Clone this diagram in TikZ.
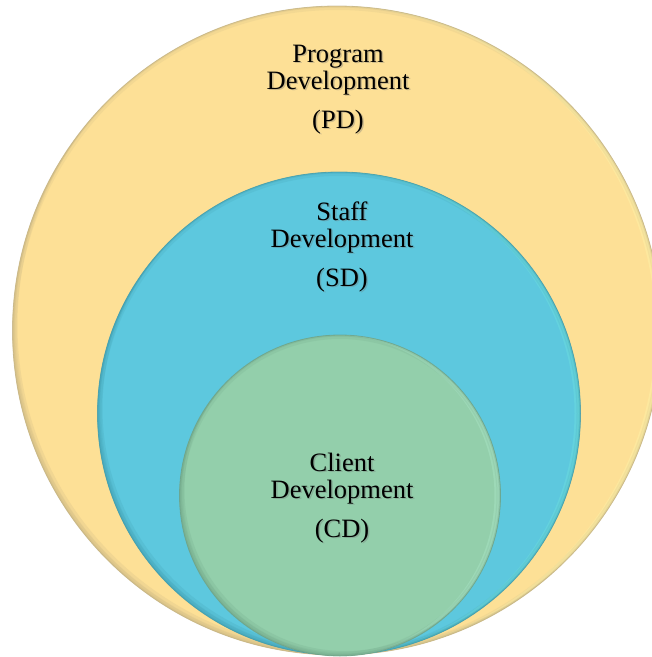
\documentclass[tikz,border=0pt]{standalone}
\usepackage{fontspec}
\setmainfont{Liberation Serif}
\begin{document}
\definecolor{pdfill}{HTML}{FDE096}
\definecolor{pdedge}{HTML}{BFAE80}
\definecolor{pdlight}{HTML}{FFF8AE}
\definecolor{sdfill}{HTML}{5DC8DE}
\definecolor{sdedge}{HTML}{3C97A8}
\definecolor{sdlight}{HTML}{72E6E0}
\definecolor{cdfill}{HTML}{93CFAB}
\definecolor{cdedge}{HTML}{6A9E82}
\definecolor{cdlight}{HTML}{B2EDD0}
\tikzset{
  lbl/.style={anchor=base, inner sep=0pt, font=\fontsize{26.5}{27}\selectfont, text=black},
  lblshadow/.style={anchor=base, inner sep=0pt, font=\fontsize{26.5}{27}\selectfont, text=black!55, opacity=0.35},
}
% a bevelled disc: base fill, soft inner rim, light crescent on the right,
% dark crescent at the lower left, thin outline
\newcommand{\beveldisc}[5]{% centre, radius, fill, edge, light
  \fill[#3] (#1) circle[radius=#2];
  \begin{scope}
    \clip (#1) circle[radius=#2];
    \fill[#5, opacity=0.35, even odd rule] (#1) circle[radius=#2] ([xshift=-6pt]#1) circle[radius=#2];
    \fill[#5, opacity=0.35, even odd rule] (#1) circle[radius=#2] ([xshift=-3pt]#1) circle[radius=#2];
    \fill[#4, opacity=0.18, even odd rule] (#1) circle[radius=#2] ([xshift=5pt,yshift=5pt]#1) circle[radius=#2];
    \fill[#4, opacity=0.18, even odd rule] (#1) circle[radius=#2] ([xshift=2.5pt,yshift=2.5pt]#1) circle[radius=#2];
    \draw[#4, opacity=0.15, line width=8pt] (#1) circle[radius=#2];
    \draw[#4, opacity=0.25, line width=3pt] (#1) circle[radius=#2];
  \end{scope}
  \draw[#4, opacity=0.7, line width=0.8pt] (#1) circle[radius=#2];
}
\begin{tikzpicture}[x=1pt, y=-1pt]
  \useasboundingbox (0,0) rectangle (652,657);
  \clip (0,0) rectangle (652,657);
  \coordinate (pdc) at (337,330.5);
  \coordinate (sdc) at (339,413.5);
  \coordinate (cdc) at (340,495.5);

  \beveldisc{pdc}{324.5pt}{pdfill}{pdedge}{pdlight}
  \beveldisc{sdc}{241.5pt}{sdfill}{sdedge}{sdlight}
  \beveldisc{cdc}{160.5pt}{cdfill}{cdedge}{cdlight}

  % labels with a soft drop shadow
  \foreach \name/\x/\y/\t in {pdA/338/62/Program, pdB/338/89/Development, pdC/338/128/(PD),
                            sdA/342/220/Staff, sdB/342/247/Development, sdC/342/286/(SD),
                            cdA/342/471/Client, cdB/342/498/Development, cdC/342/537/(CD)} {
    \node[lblshadow] (\name s) at (\x+1.5,\y+1.5) {\t};
    \node[lbl] (\name) at (\x,\y) {\t};
  }
\end{tikzpicture}
\end{document}
